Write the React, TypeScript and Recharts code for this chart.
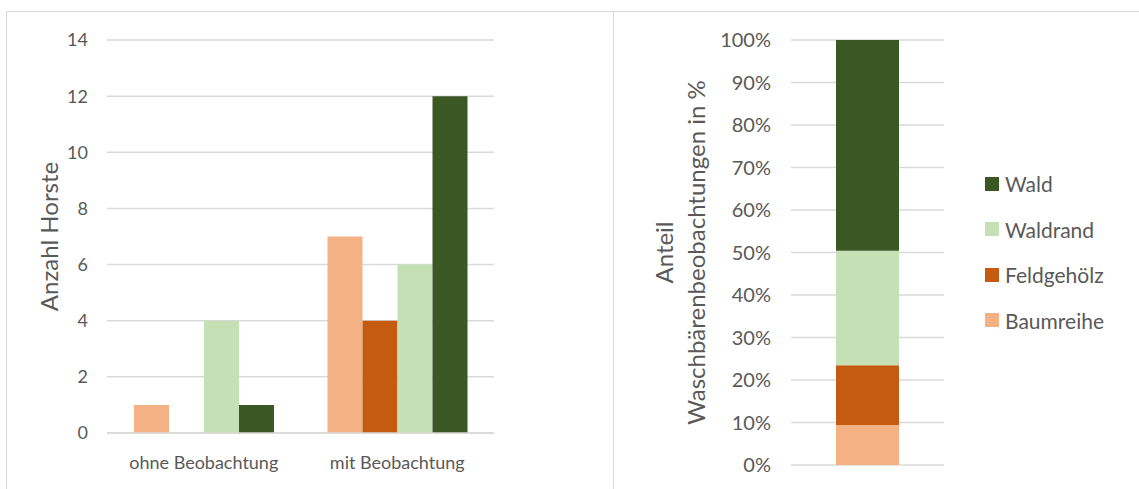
import React from "react";
import { BarChart, Bar, XAxis, YAxis, CartesianGrid } from "recharts";

// Horste je Lebensraum, nach Beobachtungsstatus
const CATEGORIES = ["ohne Beobachtung", "mit Beobachtung"];
const BAUMREIHE = [1, 7];
const FELDGEHOELZ = [0, 4];
const WALDRAND = [4, 6];
const WALD = [1, 12];
const COUNT_TICKS = [0, 2, 4, 6, 8, 10, 12, 14];

// Waschbärenbeobachtungen je Lebensraum (Anteile in %)
const SHARE_BAUMREIHE = 9.4;
const SHARE_FELDGEHOELZ = 14.1;
const SHARE_WALDRAND = 26.9;
const SHARE_WALD = 49.6;
const SHARE_TICKS = [0, 10, 20, 30, 40, 50, 60, 70, 80, 90, 100];

const SERIES = [
  { key: "Baumreihe", color: "#F4B183" },
  { key: "Feldgehölz", color: "#C55A11" },
  { key: "Waldrand", color: "#C5E0B4" },
  { key: "Wald", color: "#3B5723" },
];

const FONT = "Lato, 'Open Sans', sans-serif";
const TEXT = "#595959";
const GRID = "#D9D9D9";

const countData = CATEGORIES.map((c, i) => ({
  name: c,
  Baumreihe: BAUMREIHE[i] || null,
  "Feldgehölz": FELDGEHOELZ[i] || null,
  Waldrand: WALDRAND[i] || null,
  Wald: WALD[i] || null,
}));

const shareData = [
  {
    name: "",
    Baumreihe: SHARE_BAUMREIHE,
    "Feldgehölz": SHARE_FELDGEHOELZ,
    Waldrand: SHARE_WALDRAND,
    Wald: SHARE_WALD,
  },
];

const leftTick = { fontSize: 18, fill: TEXT, fontFamily: FONT };
const rightTick = { fontSize: 20, fill: TEXT, fontFamily: FONT };

const CountAxisLabel = (props: any) => {
  const { viewBox } = props;
  const cy = viewBox.y + viewBox.height / 2;
  return (
    <text
      x={48}
      y={cy}
      transform={`rotate(-90 48 ${cy})`}
      textAnchor="middle"
      dominantBaseline="central"
      fill={TEXT}
      fontSize={24}
      fontFamily={FONT}
    >
      Anzahl Horste
    </text>
  );
};

const ShareAxisLabel = (props: any) => {
  const { viewBox } = props;
  const cy = viewBox.y + viewBox.height / 2;
  return (
    <g fill={TEXT} fontSize={24} fontFamily={FONT}>
      <text x={49} y={cy} transform={`rotate(-90 49 ${cy})`} textAnchor="middle" dominantBaseline="central">
        Anteil
      </text>
      <text x={81} y={cy} transform={`rotate(-90 81 ${cy})`} textAnchor="middle" dominantBaseline="central">
        Waschbärenbeobachtungen in %
      </text>
    </g>
  );
};

const ShareLegend = () => (
  <div style={{ position: "absolute", left: 985, top: 161, fontFamily: FONT, fontSize: 21, color: TEXT }}>
    {[...SERIES].reverse().map((s) => (
      <div key={s.key} style={{ display: "flex", alignItems: "center", height: 45.5 }}>
        <span style={{ width: 14, height: 14, background: s.color, marginRight: 6, display: "inline-block" }} />
        {s.key}
      </div>
    ))}
  </div>
);

export default function App() {
  return (
    <div style={{ position: "absolute", left: 0, top: 0, width: 1139, height: 489, background: "#fff", overflow: "hidden" }}>
      <div style={{ position: "absolute", left: 6, top: 11, width: 608, height: 500, border: `1px solid ${GRID}`, boxSizing: "border-box" }} />
      <div style={{ position: "absolute", left: 613, top: 11, width: 540, height: 500, border: `1px solid ${GRID}`, boxSizing: "border-box" }} />

      <div style={{ position: "absolute", left: 0, top: 0 }}>
        <BarChart
          width={620}
          height={489}
          data={countData}
          margin={{ top: 40, right: 126, bottom: 0, left: 0 }}
          barCategoryGap={27}
          barGap={0}
        >
          <CartesianGrid vertical={false} stroke={GRID} strokeWidth={1.5} />
          <XAxis
            dataKey="name"
            axisLine={{ stroke: GRID, strokeWidth: 1.5 }}
            tickLine={false}
            tick={leftTick}
            tickMargin={17}
            height={56}
          />
          <YAxis
            domain={[0, 14]}
            ticks={COUNT_TICKS}
            axisLine={false}
            tickLine={false}
            tick={leftTick}
            tickMargin={13}
            width={107}
            label={<CountAxisLabel />}
          />
          {SERIES.map((s) => (
            <Bar key={s.key} dataKey={s.key} fill={s.color} isAnimationActive={false} />
          ))}
        </BarChart>
      </div>

      <div style={{ position: "absolute", left: 614, top: 0 }}>
        <BarChart
          width={525}
          height={489}
          data={shareData}
          margin={{ top: 40, right: 195, bottom: 24, left: 0 }}
          barCategoryGap={45}
        >
          <CartesianGrid vertical={false} stroke={GRID} strokeWidth={1.5} />
          <XAxis dataKey="name" axisLine={{ stroke: GRID, strokeWidth: 1.5 }} tickLine={false} tick={false} height={0} />
          <YAxis
            domain={[0, 100]}
            ticks={SHARE_TICKS}
            tickFormatter={(v: number) => `${v}%`}
            axisLine={false}
            tickLine={false}
            tick={rightTick}
            tickMargin={14}
            width={177}
            label={<ShareAxisLabel />}
          />
          {SERIES.map((s) => (
            <Bar key={s.key} dataKey={s.key} stackId="share" fill={s.color} isAnimationActive={false} />
          ))}
        </BarChart>
      </div>
      <ShareLegend />
    </div>
  );
}
